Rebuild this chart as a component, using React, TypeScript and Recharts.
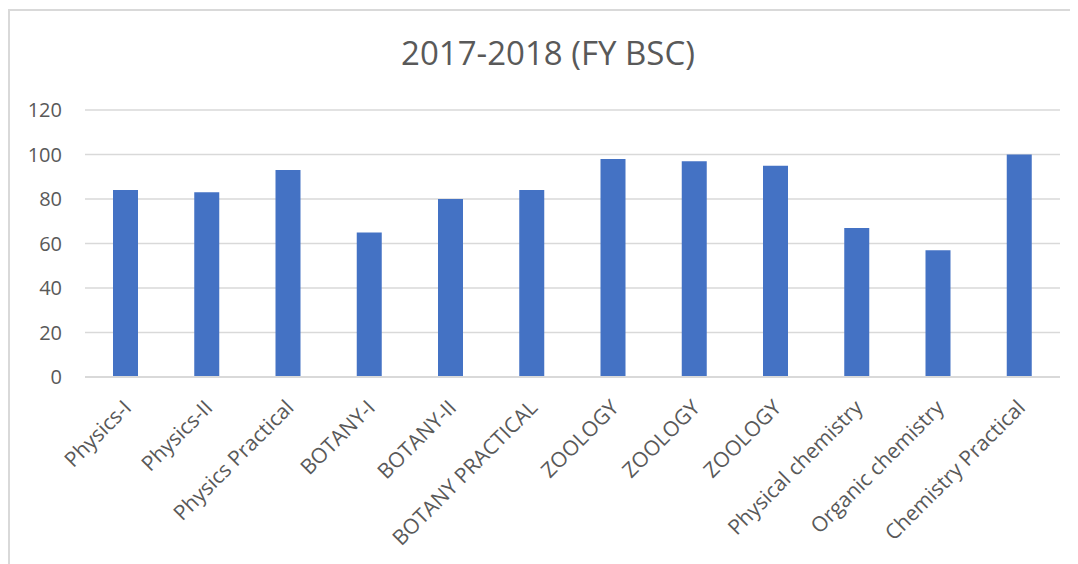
import React from 'react';
import { BarChart, Bar, XAxis, YAxis, CartesianGrid } from 'recharts';

const subjects = [
  'Physics-I',
  'Physics-II',
  'Physics Practical',
  'BOTANY-I',
  'BOTANY-II',
  'BOTANY PRACTICAL',
  'ZOOLOGY',
  'ZOOLOGY',
  'ZOOLOGY',
  'Physical chemistry',
  'Organic chemistry',
  'Chemistry Practical',
];
const results = [84, 83, 93, 65, 80, 84, 98, 97, 95, 67, 57, 100];
const yTicks = [0, 20, 40, 60, 80, 100, 120];

const FONT = '"Open Sans", "DejaVu Sans", sans-serif';
const TEXT = '#595959';
const GRID = '#d9d9d9';

const chartData = subjects.map((subject, i) => ({ key: i, subject, value: results[i] }));

// rotated category labels, top-right corner sits under the bar
const SubjectTick = (props: any) => {
  const { x, y, payload } = props;
  const label = subjects[payload.value] ?? '';
  return (
    <g transform={`translate(${x + 7},${y + 32}) rotate(-45)`}>
      <text x={0} y={0} textAnchor="end" fill={TEXT} fontSize={21} fontFamily={FONT}>
        {label}
      </text>
    </g>
  );
};

const App: React.FC = () => {
  return (
    <div
      style={{
        position: 'relative',
        width: 1080,
        height: 560,
        marginTop: 1,
        border: `2px solid ${GRID}`,
        background: '#fff',
        fontFamily: FONT,
      }}
    >
      <div
        style={{
          position: 'absolute',
          top: 25,
          left: 0,
          width: 1076,
          textAlign: 'center',
          fontSize: 33,
          lineHeight: '33px',
          color: TEXT,
        }}
      >
        2017-2018 (FY BSC)
      </div>
      <div style={{ position: 'absolute', left: 0, top: 0 }}>
        <BarChart
          width={1066}
          height={547}
          data={chartData}
          margin={{ top: 99, right: 16, bottom: 2, left: 0 }}
        >
          <CartesianGrid vertical={false} stroke={GRID} strokeWidth={1.5} />
          <XAxis
            dataKey="key"
            type="category"
            height={179}
            interval={0}
            tickLine={false}
            tickSize={0}
            tickMargin={0}
            axisLine={{ stroke: GRID, strokeWidth: 2 }}
            tick={<SubjectTick />}
          />
          <YAxis
            width={75}
            domain={[0, 120]}
            ticks={yTicks}
            axisLine={false}
            tickLine={false}
            tickSize={0}
            tickMargin={23}
            tick={{ fill: TEXT, fontSize: 20, fontFamily: FONT }}
          />
          <Bar dataKey="value" fill="#4472c4" barSize={25} isAnimationActive={false} />
        </BarChart>
      </div>
    </div>
  );
};

export default App;
